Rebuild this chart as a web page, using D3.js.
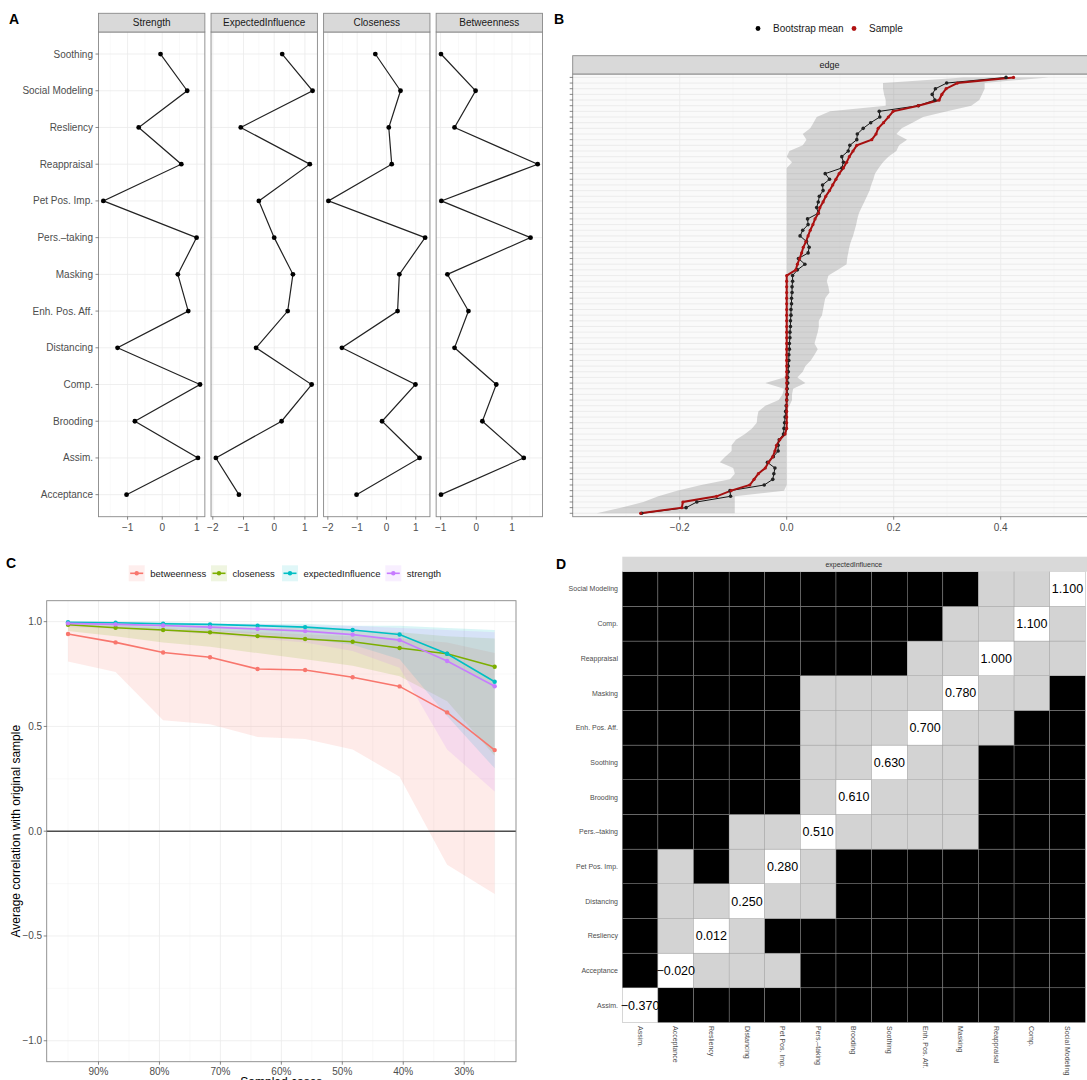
<!DOCTYPE html>
<html lang="en">
<head>
<meta charset="UTF-8">
<title>Network centrality, edge bootstrap and stability</title>
<script src="https://d3js.org/d3.v7.min.js"></script>
<style>
  body { margin: 0; background: white; }
  svg { font-family: "Liberation Sans", Arial, Helvetica, sans-serif; }
  .tick-label { fill: #4d4d4d; font-size: 10px; }
  .grid-major { stroke: #ebebeb; stroke-width: 0.8; }
  .grid-minor { stroke: #f3f3f3; stroke-width: 0.5; }
  .panel-border { fill: none; stroke: #888; stroke-width: 0.9; }
  .strip { fill: #d9d9d9; stroke: #888; stroke-width: 0.9; }
  .tick { stroke: #555; stroke-width: 0.7; }
  .tag { font-size: 14px; font-weight: bold; fill: black; }
</style>
</head>
<body>
<svg width="1087" height="1080"></svg>
<script>
// ---------- data ----------
// A: standardized centrality per node
const nodes = ["Soothing", "Social Modeling", "Resliency", "Reappraisal", "Pet Pos. Imp.", "Pers.\u2013taking",
  "Masking", "Enh. Pos. Aff.", "Distancing", "Comp.", "Brooding", "Assim.", "Acceptance"];
const strength = [-0.05, 0.72, -0.68, 0.55, -1.70, 0.99, 0.45, 0.75, -1.29, 1.09, -0.79, 1.03, -1.03];
const expectedInfluence = [0.26, 1.25, -1.09, 1.16, -0.50, 0.00, 0.61, 0.44, -0.59, 1.22, 0.24, -1.90, -1.15];
const closeness = [-0.38, 0.48, 0.08, 0.18, -1.98, 1.32, 0.44, 0.38, -1.52, 0.99, -0.15, 1.13, -1.02];
const betweenness = [-0.99, -0.02, -0.61, 1.72, -0.98, 1.52, -0.81, -0.22, -0.61, 0.56, 0.17, 1.33, -0.99];

// B: edge weights, sorted by sample value (top to bottom)
const edgeSample = [0.424, 0.319, 0.298, 0.290, 0.285, 0.246, 0.199, 0.190, 0.181, 0.171,
  0.167, 0.159, 0.131, 0.124, 0.117, 0.112, 0.106, 0.098, 0.092, 0.086,
  0.080, 0.073, 0.068, 0.062, 0.059, 0.053, 0.049, 0.044, 0.040, 0.036,
  0.031, 0.028, 0.024, 0.020, 0.017, 0, 0, 0, 0, 0,
  0, 0, 0, 0, 0, 0, 0, 0, 0, 0,
  0, 0, 0, 0, 0, 0, 0, 0, 0, 0,
  0, 0, 0, -0.003, -0.013, -0.019, -0.022, -0.026, -0.034, -0.040,
  -0.053, -0.061, -0.069, -0.104, -0.131, -0.194, -0.196, -0.273];
const edgeBoot = [0.410, 0.299, 0.278, 0.272, 0.277, 0.246, 0.173, 0.174, 0.157, 0.143,
  0.132, 0.131, 0.118, 0.115, 0.103, 0.106, 0.103, 0.072, 0.080, 0.067,
  0.068, 0.061, 0.059, 0.056, 0.059, 0.039, 0.040, 0.030, 0.025, 0.037,
  0.042, 0.040, 0.022, 0.034, 0.020, 0.011, 0.011, 0.010, 0.010, 0.009,
  0.009, 0.008, 0.008, 0.007, 0.007, 0.006, 0.006, 0.005, 0.005, 0.004,
  0.004, 0.003, 0.003, 0.002, 0.002, 0.001, 0.001, 0.000, -0.001, -0.002,
  -0.003, -0.004, -0.005, -0.006, -0.014, -0.016, -0.016, -0.025, -0.036, -0.022,
  -0.024, -0.026, -0.042, -0.106, -0.105, -0.168, -0.188, -0.271];
const edgeLower = [0.330, 0.180, 0.180, 0.182, 0.185, 0.185, 0.081, 0.056, 0.050, 0.044,
  0.030, 0.037, 0.030, 0.005, 0.000, 0.010, 0, 0, 0, 0,
  0, 0, 0, 0, 0, 0, 0, 0, 0, 0,
  0, 0, 0, 0, 0, 0, 0, 0, 0, 0,
  0, 0, 0, 0, 0, 0, 0, 0, 0, 0,
  0, 0, 0, -0.005, -0.040, -0.005, -0.008, -0.015, -0.040, -0.053,
  -0.055, -0.056, -0.065, -0.078, -0.095, -0.103, -0.103, -0.115, -0.125, -0.100,
  -0.097, -0.106, -0.160, -0.205, -0.240, -0.268, -0.310, -0.355];
const edgeUpper = [0.490, 0.370, 0.370, 0.365, 0.360, 0.345, 0.300, 0.255, 0.235, 0.215,
  0.205, 0.225, 0.210, 0.205, 0.190, 0.180, 0.172, 0.165, 0.162, 0.158,
  0.155, 0.150, 0.145, 0.140, 0.135, 0.132, 0.130, 0.127, 0.124, 0.120,
  0.117, 0.115, 0.113, 0.112, 0.095, 0.078, 0.075, 0.078, 0.080, 0.072,
  0.070, 0.068, 0.066, 0.060, 0.060, 0.058, 0.055, 0.052, 0.058, 0.052,
  0.045, 0.035, 0.030, 0.020, 0.035, 0.012, 0.010, 0.010, 0.005, 0,
  0, 0, 0, 0, 0, 0, 0, 0, 0, 0,
  0, 0, 0, -0.005, -0.097, -0.097, -0.097, -0.097];

// C: case-dropping stability
const sampledCases = [95, 87.2, 79.4, 71.7, 63.9, 56.1, 48.3, 40.6, 32.8, 25];
const stabBetweenness = [0.941, 0.901, 0.853, 0.830, 0.774, 0.769, 0.735, 0.691, 0.567, 0.387];
const stabCloseness = [0.985, 0.971, 0.960, 0.949, 0.931, 0.917, 0.904, 0.874, 0.847, 0.785];
const stabEI = [0.997, 0.995, 0.990, 0.987, 0.981, 0.974, 0.960, 0.939, 0.847, 0.713];
const stabStrength = [0.992, 0.987, 0.982, 0.974, 0.965, 0.955, 0.938, 0.912, 0.812, 0.692];
const lowBetweenness = [0.81, 0.76, 0.53, 0.51, 0.45, 0.44, 0.39, 0.26, -0.16, -0.30];
const upBetweenness = [0.99, 0.98, 0.97, 0.96, 0.95, 0.94, 0.93, 0.92, 0.90, 0.85];
const lowCloseness = [0.955, 0.93, 0.90, 0.88, 0.85, 0.82, 0.79, 0.74, 0.62, 0.36];
const upCloseness = [1.0, 0.99, 0.99, 0.98, 0.97, 0.97, 0.96, 0.95, 0.93, 0.92];
const lowEI = [0.985, 0.975, 0.965, 0.955, 0.94, 0.92, 0.89, 0.82, 0.55, 0.30];
const upEI = [1.0, 1.0, 1.0, 0.99, 0.99, 0.99, 0.98, 0.98, 0.97, 0.96];
const lowStrength = [0.975, 0.965, 0.955, 0.94, 0.92, 0.90, 0.86, 0.78, 0.39, 0.19];
const upStrength = [1.0, 1.0, 0.99, 0.99, 0.99, 0.98, 0.98, 0.97, 0.96, 0.95];

// D: expected influence difference test (1 = significant, 0 = not, - = diagonal)
const eiOrder = ["Assim.", "Acceptance", "Resliency", "Distancing", "Pet Pos. Imp.", "Pers.\u2013taking",
  "Brooding", "Soothing", "Enh. Pos. Aff.", "Masking", "Reappraisal", "Comp.", "Social Modeling"];
const eiValues = [-0.370, -0.020, 0.012, 0.250, 0.280, 0.510, 0.610, 0.630, 0.700, 0.780, 1.000, 1.100, 1.100];
const eiSig = ["-111111111111", "1-00011111111", "10-0111111111", "100-001111111", "1010-01111111",
  "11100-0000111", "111110-000111", "1111100-00111", "11111000-0011", "111110000-001",
  "1111111100-00", "11111111100-0", "111111111100-"];

const svg = d3.select("svg");
const fmtTick = d3.format("d");

// ---------- A: centrality facets ----------
const facets = [
  { name: "Strength", values: strength },
  { name: "ExpectedInfluence", values: expectedInfluence },
  { name: "Closeness", values: closeness },
  { name: "Betweenness", values: betweenness }
];
const aTop = 32, aBottom = 516.7, stripTop = 13.3;
const fx = d3.scaleBand().domain(facets.map(f => f.name)).range([98.5, 542.5]).paddingInner(0.055);
const ay = d3.scalePoint().domain(nodes).range([aTop, aBottom]).padding(0.6);

facets.forEach(f => {
  const x0 = fx(f.name), w = fx.bandwidth();
  const ext = d3.extent(f.values), pad = (ext[1] - ext[0]) * 0.05;
  const x = d3.scaleLinear().domain([ext[0] - pad, ext[1] + pad]).range([x0, x0 + w]);
  const g = svg.append("g");
  const major = x.ticks(3);
  const minor = d3.range(Math.ceil(x.domain()[0] * 2) / 2, x.domain()[1], 0.5).filter(v => !Number.isInteger(v));

  g.selectAll(".gm").data(minor).enter().append("line").attr("class", "grid-minor")
    .attr("x1", d => x(d)).attr("x2", d => x(d)).attr("y1", aTop).attr("y2", aBottom);
  g.selectAll(".gM").data(major).enter().append("line").attr("class", "grid-major")
    .attr("x1", d => x(d)).attr("x2", d => x(d)).attr("y1", aTop).attr("y2", aBottom);
  g.selectAll(".gy").data(nodes).enter().append("line").attr("class", "grid-major")
    .attr("x1", x0).attr("x2", x0 + w).attr("y1", d => ay(d)).attr("y2", d => ay(d));

  g.append("path")
    .datum(f.values)
    .attr("fill", "none").attr("stroke", "#222").attr("stroke-width", 1.2)
    .attr("d", d3.line().x(d => x(d)).y((d, i) => ay(nodes[i])));
  g.selectAll(".pt").data(f.values).enter().append("circle")
    .attr("cx", d => x(d)).attr("cy", (d, i) => ay(nodes[i])).attr("r", 2.4).attr("fill", "black");

  g.append("rect").attr("class", "panel-border").attr("x", x0).attr("y", aTop).attr("width", w).attr("height", aBottom - aTop);
  g.append("rect").attr("class", "strip").attr("x", x0).attr("y", stripTop).attr("width", w).attr("height", aTop - stripTop);
  g.append("text").attr("x", x0 + w / 2).attr("y", (stripTop + aTop) / 2).attr("dy", "0.35em")
    .attr("text-anchor", "middle").attr("font-size", 10).attr("fill", "#1a1a1a").text(f.name);

  g.selectAll(".xt").data(major).enter().append("line").attr("class", "tick")
    .attr("x1", d => x(d)).attr("x2", d => x(d)).attr("y1", aBottom).attr("y2", aBottom + 3);
  g.selectAll(".xl").data(major).enter().append("text").attr("class", "tick-label")
    .attr("x", d => x(d)).attr("y", 527).attr("dy", "0.35em").attr("text-anchor", "middle")
    .text(d => fmtTick(d));
});

svg.selectAll(".ayt").data(nodes).enter().append("line").attr("class", "tick")
  .attr("x1", 95.5).attr("x2", 98.5).attr("y1", d => ay(d)).attr("y2", d => ay(d));
svg.selectAll(".ayl").data(nodes).enter().append("text").attr("class", "tick-label")
  .attr("x", 93).attr("y", d => ay(d)).attr("dy", "0.35em").attr("text-anchor", "end").text(d => d);

svg.append("text").attr("class", "tag").attr("x", 9).attr("y", 24).text("A");

// ---------- B: bootstrapped edges ----------
const bTop = 74, bBottom = 516.7, bLeft = 572.7, bRight = 1086.3;
const bx = d3.scaleLinear().domain([-0.40, 0.56]).range([bLeft, bRight]);
const edgeIdx = d3.range(edgeSample.length);
const by = d3.scalePoint().domain(edgeIdx).range([bTop, bBottom]).padding(0.6);
const gB = svg.append("g");

gB.append("rect").attr("x", bLeft).attr("y", bTop).attr("width", bRight - bLeft + 4).attr("height", bBottom - bTop)
  .attr("fill", "#fafafa");
gB.selectAll(".gm").data([-0.3, -0.1, 0.1, 0.3, 0.5]).enter().append("line").attr("class", "grid-minor")
  .attr("x1", d => bx(d)).attr("x2", d => bx(d)).attr("y1", bTop).attr("y2", bBottom);
gB.selectAll(".gy").data(edgeIdx).enter().append("line")
  .attr("stroke", "#e8e8e8").attr("stroke-width", 0.8)
  .attr("x1", bLeft).attr("x2", bRight + 4).attr("y1", d => by(d)).attr("y2", d => by(d));
gB.selectAll(".gM").data([-0.2, 0, 0.2, 0.4]).enter().append("line").attr("class", "grid-major")
  .attr("x1", d => bx(d)).attr("x2", d => bx(d)).attr("y1", bTop).attr("y2", bBottom);

gB.append("path").datum(edgeIdx)
  .attr("fill", "black").attr("fill-opacity", 0.15)
  .attr("d", d3.area().y(i => by(i)).x0(i => bx(edgeLower[i])).x1(i => bx(edgeUpper[i])));

gB.append("path").datum(edgeIdx)
  .attr("fill", "none").attr("stroke", "black").attr("stroke-width", 0.9)
  .attr("d", d3.line().x(i => bx(edgeBoot[i])).y(i => by(i)));
gB.append("path").datum(edgeIdx)
  .attr("fill", "none").attr("stroke", "#a50f0f").attr("stroke-width", 2)
  .attr("d", d3.line().x(i => bx(edgeSample[i])).y(i => by(i)));
gB.selectAll(".bp").data(edgeIdx).enter().append("circle")
  .attr("cx", i => bx(edgeBoot[i])).attr("cy", i => by(i)).attr("r", 1.8).attr("fill", "#222");
gB.selectAll(".sp").data(edgeIdx).enter().append("circle")
  .attr("cx", i => bx(edgeSample[i])).attr("cy", i => by(i)).attr("r", 1.6).attr("fill", "#b11212");

gB.append("rect").attr("class", "panel-border").attr("x", bLeft).attr("y", bTop)
  .attr("width", bRight - bLeft + 4).attr("height", bBottom - bTop);
gB.append("rect").attr("class", "strip").attr("x", bLeft).attr("y", 55.7)
  .attr("width", bRight - bLeft + 4).attr("height", bTop - 55.7);
gB.append("text").attr("x", (bLeft + bRight) / 2).attr("y", 65).attr("dy", "0.35em")
  .attr("text-anchor", "middle").attr("font-size", 9).attr("fill", "#1a1a1a").text("edge");

gB.selectAll(".yt").data(edgeIdx).enter().append("line").attr("class", "tick")
  .attr("x1", bLeft - 3).attr("x2", bLeft).attr("y1", d => by(d)).attr("y2", d => by(d));
gB.selectAll(".xt").data([-0.2, 0, 0.2, 0.4]).enter().append("line").attr("class", "tick")
  .attr("x1", d => bx(d)).attr("x2", d => bx(d)).attr("y1", bBottom).attr("y2", bBottom + 3);
gB.selectAll(".xl").data([-0.2, 0, 0.2, 0.4]).enter().append("text").attr("class", "tick-label")
  .attr("x", d => bx(d)).attr("y", 527).attr("dy", "0.35em").attr("text-anchor", "middle")
  .text(d => d3.format(".1f")(d));

// legend
const bLegend = [{ label: "Bootstrap mean", color: "black", x: 758 }, { label: "Sample", color: "#b11212", x: 854 }];
bLegend.forEach(l => {
  gB.append("circle").attr("cx", l.x).attr("cy", 28.5).attr("r", 2.4).attr("fill", l.color);
  gB.append("text").attr("x", l.x + 15).attr("y", 28.5).attr("dy", "0.35em")
    .attr("font-size", 10).attr("fill", "#1a1a1a").text(l.label);
});
svg.append("text").attr("class", "tag").attr("x", 554).attr("y", 23.5).text("B");

// ---------- C: stability ----------
const cTop = 600.7, cBottom = 1061.7, cLeft = 46.7, cRight = 516;
const cx = d3.scaleLinear().domain([98.5, 21.5]).range([cLeft, cRight]);
const cy = d3.scaleLinear().domain([-1.1, 1.1]).range([cBottom, cTop]);
const gC = svg.append("g");
const stab = [
  { name: "betweenness", color: "#F8766D", mean: stabBetweenness, lo: lowBetweenness, hi: upBetweenness },
  { name: "closeness", color: "#7CAE00", mean: stabCloseness, lo: lowCloseness, hi: upCloseness },
  { name: "expectedInfluence", color: "#00BFC4", mean: stabEI, lo: lowEI, hi: upEI },
  { name: "strength", color: "#C77CFF", mean: stabStrength, lo: lowStrength, hi: upStrength }
];
const cxMajor = [90, 80, 70, 60, 50, 40, 30], cxMinor = [95, 85, 75, 65, 55, 45, 35, 25];
const cyMajor = [-1, -0.5, 0, 0.5, 1], cyMinor = [-0.75, -0.25, 0.25, 0.75];

gC.selectAll(".gmx").data(cxMinor).enter().append("line").attr("class", "grid-minor")
  .attr("x1", d => cx(d)).attr("x2", d => cx(d)).attr("y1", cTop).attr("y2", cBottom);
gC.selectAll(".gmy").data(cyMinor).enter().append("line").attr("class", "grid-minor")
  .attr("x1", cLeft).attr("x2", cRight).attr("y1", d => cy(d)).attr("y2", d => cy(d));
gC.selectAll(".gMx").data(cxMajor).enter().append("line").attr("class", "grid-major")
  .attr("x1", d => cx(d)).attr("x2", d => cx(d)).attr("y1", cTop).attr("y2", cBottom);
gC.selectAll(".gMy").data(cyMajor).enter().append("line").attr("class", "grid-major")
  .attr("x1", cLeft).attr("x2", cRight).attr("y1", d => cy(d)).attr("y2", d => cy(d));

stab.forEach(s => {
  gC.append("path").datum(sampledCases)
    .attr("fill", s.color).attr("fill-opacity", 0.15)
    .attr("d", d3.area().x(d => cx(d)).y0((d, i) => cy(s.lo[i])).y1((d, i) => cy(s.hi[i])));
});
gC.append("line").attr("x1", cLeft).attr("x2", cRight).attr("y1", cy(0)).attr("y2", cy(0))
  .attr("stroke", "#4d4d4d").attr("stroke-width", 1.6);
stab.forEach(s => {
  gC.append("path").datum(sampledCases)
    .attr("fill", "none").attr("stroke", s.color).attr("stroke-width", 1.6)
    .attr("d", d3.line().x(d => cx(d)).y((d, i) => cy(s.mean[i])));
  gC.selectAll(".p-" + s.name).data(sampledCases).enter().append("circle")
    .attr("cx", d => cx(d)).attr("cy", (d, i) => cy(s.mean[i])).attr("r", 2.2).attr("fill", s.color);
});

gC.append("rect").attr("class", "panel-border").attr("x", cLeft).attr("y", cTop)
  .attr("width", cRight - cLeft).attr("height", cBottom - cTop);
gC.selectAll(".yt").data(cyMajor).enter().append("line").attr("class", "tick")
  .attr("x1", cLeft - 3).attr("x2", cLeft).attr("y1", d => cy(d)).attr("y2", d => cy(d));
gC.selectAll(".yl").data(cyMajor).enter().append("text").attr("class", "tick-label")
  .attr("x", cLeft - 4.5).attr("y", d => cy(d)).attr("dy", "0.35em").attr("text-anchor", "end")
  .text(d => d3.format(".1f")(d));
gC.selectAll(".xt").data(cxMajor).enter().append("line").attr("class", "tick")
  .attr("x1", d => cx(d)).attr("x2", d => cx(d)).attr("y1", cBottom).attr("y2", cBottom + 3);
gC.selectAll(".xl").data(cxMajor).enter().append("text").attr("class", "tick-label")
  .attr("x", d => cx(d)).attr("y", 1071).attr("dy", "0.35em").attr("text-anchor", "middle")
  .text(d => d + "%");
gC.append("text").attr("transform", `translate(16,${(cTop + cBottom) / 2}) rotate(-90)`)
  .attr("text-anchor", "middle").attr("dy", "0.35em").attr("font-size", 12).attr("fill", "black")
  .text("Average correlation with original sample");
gC.append("text").attr("x", (cLeft + cRight) / 2).attr("y", 1086).attr("text-anchor", "middle")
  .attr("font-size", 12).attr("fill", "black").text("Sampled cases");

// legend
const cLegendX = [136.7, 219, 290, 393.3];
stab.forEach((s, i) => {
  const lx = cLegendX[i], ly = 573.3;
  gC.append("rect").attr("x", lx - 8).attr("y", ly - 8).attr("width", 16).attr("height", 16)
    .attr("fill", s.color).attr("fill-opacity", 0.12);
  gC.append("line").attr("x1", lx - 6.5).attr("x2", lx + 6.5).attr("y1", ly).attr("y2", ly)
    .attr("stroke", s.color).attr("stroke-width", 1.6);
  gC.append("circle").attr("cx", lx).attr("cy", ly).attr("r", 2.2).attr("fill", s.color);
  gC.append("text").attr("x", lx + 13.5).attr("y", ly).attr("dy", "0.35em")
    .attr("font-size", 9.5).attr("fill", "#1a1a1a").text(s.name);
});
svg.append("text").attr("class", "tag").attr("x", 6).attr("y", 568).text("C");

// ---------- D: difference test ----------
const dLeft = 622.3, dRight = 1085.3, dTop = 571.7, dBottom = 1022.5;
const dx = d3.scaleBand().domain(eiOrder).range([dLeft, dRight]);
const dy = d3.scaleBand().domain(eiOrder.slice().reverse()).range([dTop, dBottom]);
const gD = svg.append("g");
const cells = [];
eiOrder.forEach((r, i) => eiOrder.forEach((c, j) => cells.push({ row: r, col: c, v: eiSig[i][j], i })));

gD.selectAll(".cell").data(cells).enter().append("rect")
  .attr("x", d => dx(d.col)).attr("y", d => dy(d.row))
  .attr("width", dx.bandwidth()).attr("height", dy.bandwidth())
  .attr("fill", d => d.v === "1" ? "black" : d.v === "0" ? "#d3d3d3" : "white")
  .attr("stroke", "#9a9a9a").attr("stroke-width", 0.4);
gD.selectAll(".val").data(cells.filter(d => d.v === "-")).enter().append("text")
  .attr("x", d => dx(d.col) + dx.bandwidth() / 2).attr("y", d => dy(d.row) + dy.bandwidth() / 2)
  .attr("dy", "0.35em").attr("text-anchor", "middle").attr("font-size", 12.5).attr("fill", "black")
  .text(d => d3.format(".3f")(eiValues[d.i]));

gD.append("rect").attr("x", dLeft).attr("y", 556.7).attr("width", dRight - dLeft + 4).attr("height", dTop - 556.7)
  .attr("fill", "#d9d9d9");
gD.append("text").attr("x", (dLeft + dRight) / 2).attr("y", 564.2).attr("dy", "0.35em")
  .attr("text-anchor", "middle").attr("font-size", 7).attr("fill", "#333").text("expectedInfluence");
gD.selectAll(".yl").data(eiOrder).enter().append("text")
  .attr("x", 618).attr("y", d => dy(d) + dy.bandwidth() / 2).attr("dy", "0.35em")
  .attr("text-anchor", "end").attr("font-size", 7).attr("fill", "#4d4d4d").text(d => d);
gD.selectAll(".xl").data(eiOrder).enter().append("text")
  .attr("transform", d => `translate(${dx(d) + dx.bandwidth() / 2},1026) rotate(90)`)
  .attr("dy", "0.35em").attr("font-size", 7).attr("fill", "#4d4d4d").text(d => d);
svg.append("text").attr("class", "tag").attr("x", 556).attr("y", 569).text("D");
</script>
</body>
</html>
